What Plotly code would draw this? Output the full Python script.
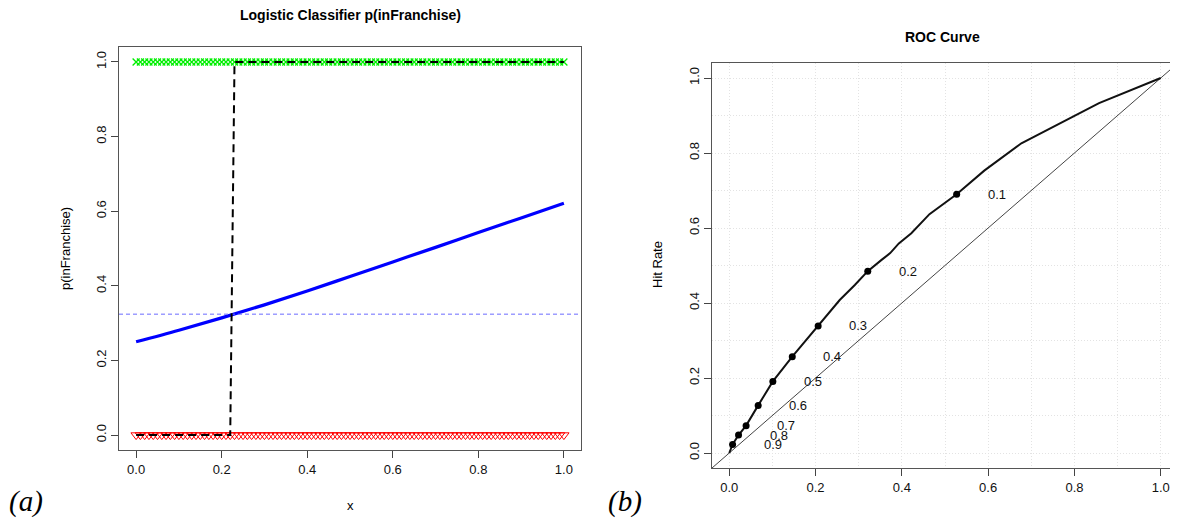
import plotly.graph_objects as go

# ---------------- data ----------------
# left panel: observations at evenly spaced x, labelled 1 (green) and 0 (red)
obs_x = [round(i * 0.01, 2) for i in range(101)]
obs_pos = [1] * len(obs_x)
obs_neg = [0] * len(obs_x)

# fitted logistic curve
fit_x = [0.0, 0.1, 0.2, 0.3, 0.4, 0.5, 0.6, 0.7, 0.8, 0.9, 1.0]
fit_p = [0.250, 0.281, 0.314, 0.349, 0.386, 0.425, 0.464, 0.503, 0.543, 0.582, 0.621]

threshold = 0.324

# classification step (black dashed)
cls_x = [0.0, 0.22, 0.23, 1.0]
cls_y = [0, 0, 1, 1]

# right panel: ROC curve
roc_fpr = [0.0, 0.0077, 0.0215, 0.039, 0.067, 0.101, 0.146, 0.176, 0.206, 0.224,
           0.256, 0.291, 0.321, 0.353, 0.373, 0.393, 0.422, 0.464, 0.527, 0.591,
           0.677, 0.857, 1.0]
roc_tpr = [0.0, 0.023, 0.048, 0.073, 0.127, 0.191, 0.257, 0.298, 0.339, 0.363,
           0.408, 0.448, 0.485, 0.515, 0.533, 0.559, 0.586, 0.637, 0.690, 0.753,
           0.826, 0.933, 1.0]

cut_labels = ["0.1", "0.2", "0.3", "0.4", "0.5", "0.6", "0.7", "0.8", "0.9"]
cut_fpr = [0.527, 0.321, 0.206, 0.146, 0.101, 0.067, 0.039, 0.0215, 0.0077]
cut_tpr = [0.690, 0.485, 0.339, 0.257, 0.191, 0.127, 0.073, 0.048, 0.023]

axis_range = [-0.04, 1.04]
tick_vals = [0.0, 0.2, 0.4, 0.6, 0.8, 1.0]
tick_text = ["0.0", "0.2", "0.4", "0.6", "0.8", "1.0"]

# ---------------- figure ----------------
# page body has an 8px margin, so the figure starts at (8, 8) in the window
OFF = 8
W, H = 1178 - OFF, 518 - OFF
FONT = "Liberation Sans, Arial, Helvetica, sans-serif"
SERIF = "Liberation Serif, Times New Roman, serif"


def dom_x(a, b):
    return [max(0.0, (a - OFF) / W), min(1.0, (b - OFF) / W)]


def dom_y(top, bottom):
    return [1 - (bottom - OFF) / H, 1 - (top - OFF) / H]


fig = go.Figure()

# left panel
fig.add_trace(go.Scatter(x=obs_x, y=obs_pos, mode="markers", xaxis="x", yaxis="y",
                         marker=dict(symbol="x-thin", size=7, color="#00ee00",
                                     line=dict(color="#00ee00", width=1.3)),
                         showlegend=False))
fig.add_trace(go.Scatter(x=obs_x, y=obs_neg, mode="markers", xaxis="x", yaxis="y",
                         marker=dict(symbol="triangle-down-open", size=9, color="#ff0000",
                                     line=dict(color="#ff0000", width=1)),
                         showlegend=False))
fig.add_trace(go.Scatter(x=fit_x, y=fit_p, mode="lines", xaxis="x", yaxis="y",
                         line=dict(color="#0000ff", width=3.2, shape="spline"),
                         showlegend=False))
fig.add_trace(go.Scatter(x=axis_range, y=[threshold, threshold], mode="lines", xaxis="x", yaxis="y",
                         line=dict(color="#6b6bff", width=1, dash="4px,3px"),
                         showlegend=False))
fig.add_trace(go.Scatter(x=cls_x, y=cls_y, mode="lines", xaxis="x", yaxis="y",
                         line=dict(color="#000000", width=2, dash="8px,5px"),
                         showlegend=False))

# right panel
fig.add_trace(go.Scatter(x=axis_range, y=axis_range, mode="lines", xaxis="x2", yaxis="y2",
                         line=dict(color="#444444", width=1), showlegend=False))
fig.add_trace(go.Scatter(x=roc_fpr, y=roc_tpr, mode="lines", xaxis="x2", yaxis="y2",
                         line=dict(color="#111111", width=2), showlegend=False))
fig.add_trace(go.Scatter(x=cut_fpr, y=cut_tpr, mode="markers", xaxis="x2", yaxis="y2",
                         marker=dict(color="#000000", size=7), showlegend=False))

annotations = []
for lab, fx, ty in zip(cut_labels, cut_fpr, cut_tpr):
    annotations.append(dict(x=fx, y=ty, xref="x2", yref="y2", text=lab, showarrow=False,
                            xanchor="center", yanchor="middle",
                            xshift=40, font=dict(family=FONT, size=13, color="#111111")))


def paper_text(text, px, py, size=13, family=FONT, angle=0):
    return dict(text=text, x=(px - OFF) / W, y=1 - (py - OFF) / H, xref="paper", yref="paper",
                showarrow=False, xanchor="center", yanchor="middle", textangle=angle,
                font=dict(family=family, size=size, color="#000000"))


annotations += [
    paper_text("<b>Logistic Classifier p(inFranchise)</b>", 350, 15, size=14),
    paper_text("<b>ROC Curve</b>", 942, 37, size=14),
    paper_text("x", 350, 505),
    paper_text("p(inFranchise)", 65, 249, angle=-90),
    paper_text("Hit Rate", 657, 265, angle=-90),
    paper_text("<i>(a)</i>", 26, 501, size=29, family=SERIF),
    paper_text("<i>(b)</i>", 625, 501, size=29, family=SERIF),
]

tickfont = dict(family=FONT, size=13, color="#111111")
common = dict(range=axis_range, tickvals=tick_vals, ticktext=tick_text, ticks="outside",
              ticklen=7, tickcolor="#444444", showline=True, linecolor="#555555", linewidth=1,
              zeroline=False, tickfont=tickfont, fixedrange=True, automargin=False)

GRID = "#e3e3e3"
grid_common = dict(showgrid=True, gridcolor=GRID, griddash="1px,2px", gridwidth=1,
                   minor=dict(dtick=0.1, tick0=0, showgrid=True, gridcolor=GRID,
                              griddash="1px,2px", gridwidth=1, ticks=""))

fig.update_layout(
    width=W, height=H,
    margin=dict(l=0, r=0, t=0, b=0),
    paper_bgcolor="white", plot_bgcolor="white",
    xaxis=dict(domain=dom_x(119, 581), anchor="y", mirror=True, showgrid=False, **common),
    yaxis=dict(domain=dom_y(47, 450), anchor="x", mirror=True, showgrid=False,
               tickangle=-90, **common),
    xaxis2=dict(domain=dom_x(712, 1179), anchor="y2", mirror=True, **grid_common, **common),
    yaxis2=dict(domain=dom_y(63, 468), anchor="x2", mirror=False, tickangle=-90,
                **grid_common, **common),
    annotations=annotations,
)

fig.write_html("out.html")
